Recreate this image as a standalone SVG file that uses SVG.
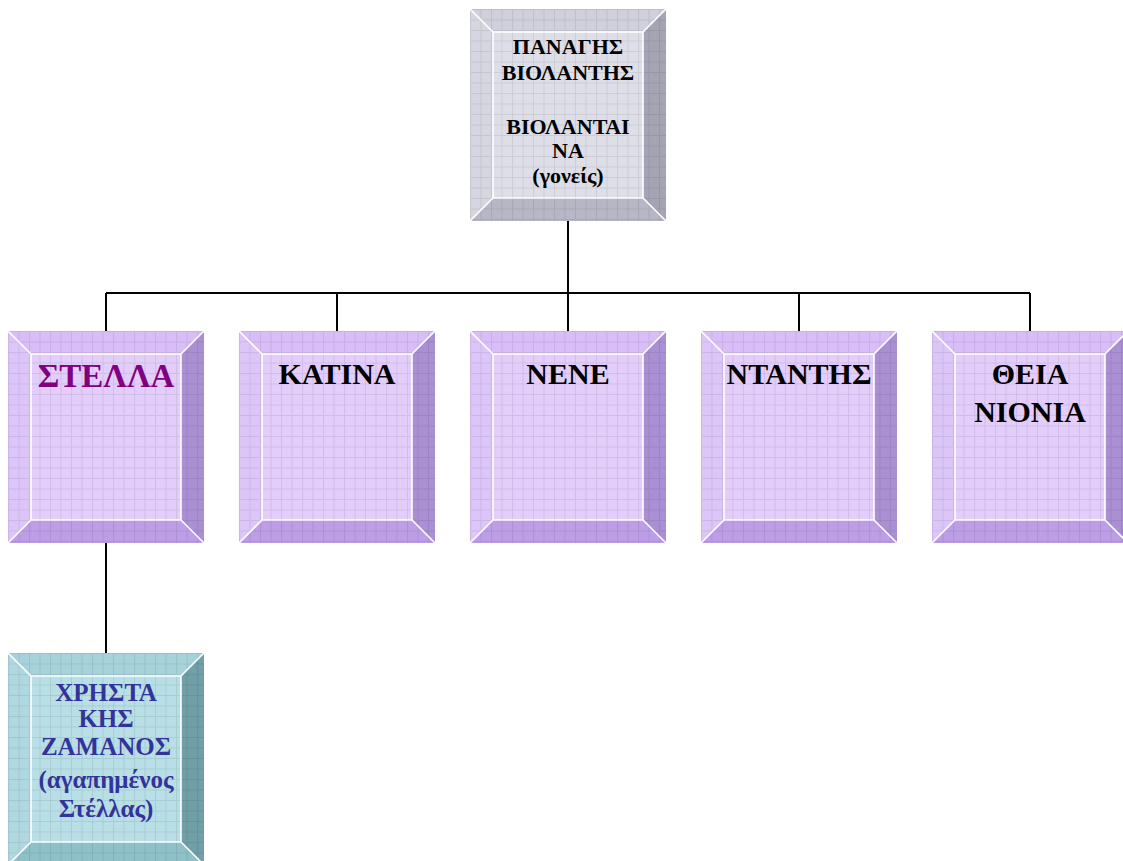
<svg xmlns="http://www.w3.org/2000/svg" width="1123" height="861" viewBox="0 0 1123 861">
<defs>
<pattern id="grid" patternUnits="userSpaceOnUse" width="10.5" height="10.5">
<path d="M0 0.5H10.5M0.5 0V10.5" stroke="#000" stroke-opacity="0.08" stroke-width="1" fill="none"/>
<rect x="3" y="3" width="1" height="1" fill="#fff" fill-opacity="0.12"/>
<rect x="7" y="7" width="1" height="1" fill="#fff" fill-opacity="0.12"/>
</pattern>
</defs>
<style>
.p .face{fill:#e3cdfb}.p .top{fill:#d9bdf7}.p .left{fill:#dcc6f9}.p .right{fill:#aa8fd3}.p .bottom{fill:#bc9de6}
.g .face{fill:#dedee8}.g .top{fill:#d0d0dc}.g .left{fill:#d6d6e0}.g .right{fill:#a4a4b4}.g .bottom{fill:#b6b6c6}
.t .face{fill:#b8dee6}.t .top{fill:#a6d2da}.t .left{fill:#b0d8e0}.t .right{fill:#6f9fa7}.t .bottom{fill:#8ec0c8}
.gridov{fill:url(#grid)}
.edge{fill:none;stroke:#fff;stroke-width:1.6}
.lbl{font-family:"Liberation Serif","Times New Roman",serif;font-weight:bold;text-anchor:middle;fill:#000}
.conn{stroke:#000;stroke-width:2;fill:none}
</style>

<g id="connectors">
<path class="conn" d="M568 221V293M106 293H1030M106 293V331M337 293V331M568 293V331M799 293V331M1030 293V331M106 543V653"/>
</g>

<g id="node-parents" class="g" transform="translate(470,9)">
<rect class="face" width="196" height="212"/>
<polygon class="top" points="0,0 196,0 173,23 23,23"/>
<polygon class="left" points="0,0 23,23 23,189 0,212"/>
<polygon class="right" points="196,0 196,212 173,189 173,23"/>
<polygon class="bottom" points="0,212 23,189 173,189 196,212"/>
<rect class="gridov" width="196" height="212"/>
<path class="edge" d="M23 23H173V189H23Z M0 0L23 23 M196 0L173 23 M0 212L23 189 M196 212L173 189"/>
<text class="lbl" font-size="22" x="98"><tspan x="98" y="45">ΠΑΝΑΓΗΣ</tspan><tspan x="98" y="71">ΒΙΟΛΑΝΤΗΣ</tspan><tspan x="98" y="125">ΒΙΟΛΑΝΤΑΙ</tspan><tspan x="98" y="149">ΝΑ</tspan><tspan x="98" y="174">(γονείς)</tspan></text>
</g>

<g id="node-stella" class="p" transform="translate(8,331)">
<rect class="face" width="196" height="212"/>
<polygon class="top" points="0,0 196,0 173,23 23,23"/>
<polygon class="left" points="0,0 23,23 23,189 0,212"/>
<polygon class="right" points="196,0 196,212 173,189 173,23"/>
<polygon class="bottom" points="0,212 23,189 173,189 196,212"/>
<rect class="gridov" width="196" height="212"/>
<path class="edge" d="M23 23H173V189H23Z M0 0L23 23 M196 0L173 23 M0 212L23 189 M196 212L173 189"/>
<text class="lbl" font-size="33" x="98" y="56" style="fill:#800080">ΣΤΕΛΛΑ</text>
</g>

<g id="node-katina" class="p" transform="translate(239,331)">
<rect class="face" width="196" height="212"/>
<polygon class="top" points="0,0 196,0 173,23 23,23"/>
<polygon class="left" points="0,0 23,23 23,189 0,212"/>
<polygon class="right" points="196,0 196,212 173,189 173,23"/>
<polygon class="bottom" points="0,212 23,189 173,189 196,212"/>
<rect class="gridov" width="196" height="212"/>
<path class="edge" d="M23 23H173V189H23Z M0 0L23 23 M196 0L173 23 M0 212L23 189 M196 212L173 189"/>
<text class="lbl" font-size="30" x="98" y="53">ΚΑΤΙΝΑ</text>
</g>

<g id="node-nene" class="p" transform="translate(470,331)">
<rect class="face" width="196" height="212"/>
<polygon class="top" points="0,0 196,0 173,23 23,23"/>
<polygon class="left" points="0,0 23,23 23,189 0,212"/>
<polygon class="right" points="196,0 196,212 173,189 173,23"/>
<polygon class="bottom" points="0,212 23,189 173,189 196,212"/>
<rect class="gridov" width="196" height="212"/>
<path class="edge" d="M23 23H173V189H23Z M0 0L23 23 M196 0L173 23 M0 212L23 189 M196 212L173 189"/>
<text class="lbl" font-size="30" x="98" y="53">ΝΕΝΕ</text>
</g>

<g id="node-ntantis" class="p" transform="translate(701,331)">
<rect class="face" width="196" height="212"/>
<polygon class="top" points="0,0 196,0 173,23 23,23"/>
<polygon class="left" points="0,0 23,23 23,189 0,212"/>
<polygon class="right" points="196,0 196,212 173,189 173,23"/>
<polygon class="bottom" points="0,212 23,189 173,189 196,212"/>
<rect class="gridov" width="196" height="212"/>
<path class="edge" d="M23 23H173V189H23Z M0 0L23 23 M196 0L173 23 M0 212L23 189 M196 212L173 189"/>
<text class="lbl" font-size="30" x="98" y="53">ΝΤΑΝΤΗΣ</text>
</g>

<g id="node-theia" class="p" transform="translate(932,331)">
<rect class="face" width="196" height="212"/>
<polygon class="top" points="0,0 196,0 173,23 23,23"/>
<polygon class="left" points="0,0 23,23 23,189 0,212"/>
<polygon class="right" points="196,0 196,212 173,189 173,23"/>
<polygon class="bottom" points="0,212 23,189 173,189 196,212"/>
<rect class="gridov" width="196" height="212"/>
<path class="edge" d="M23 23H173V189H23Z M0 0L23 23 M196 0L173 23 M0 212L23 189 M196 212L173 189"/>
<text class="lbl" font-size="30" x="98"><tspan x="98" y="53">ΘΕΙΑ</tspan><tspan x="98" y="91">ΝΙΟΝΙΑ</tspan></text>
</g>

<g id="node-christakis" class="t" transform="translate(8,653)">
<rect class="face" width="196" height="212"/>
<polygon class="top" points="0,0 196,0 173,23 23,23"/>
<polygon class="left" points="0,0 23,23 23,189 0,212"/>
<polygon class="right" points="196,0 196,212 173,189 173,23"/>
<polygon class="bottom" points="0,212 23,189 173,189 196,212"/>
<rect class="gridov" width="196" height="212"/>
<path class="edge" d="M23 23H173V189H23Z M0 0L23 23 M196 0L173 23 M0 212L23 189 M196 212L173 189"/>
<text class="lbl" font-size="25" x="98" style="fill:#333399"><tspan x="98" y="48">ΧΡΗΣΤΑ</tspan><tspan x="98" y="74">ΚΗΣ</tspan><tspan x="98" y="102">ΖΑΜΑΝΟΣ</tspan><tspan x="98" y="135">(αγαπημένος</tspan><tspan x="98" y="164">Στέλλας)</tspan></text>
</g>
</svg>
